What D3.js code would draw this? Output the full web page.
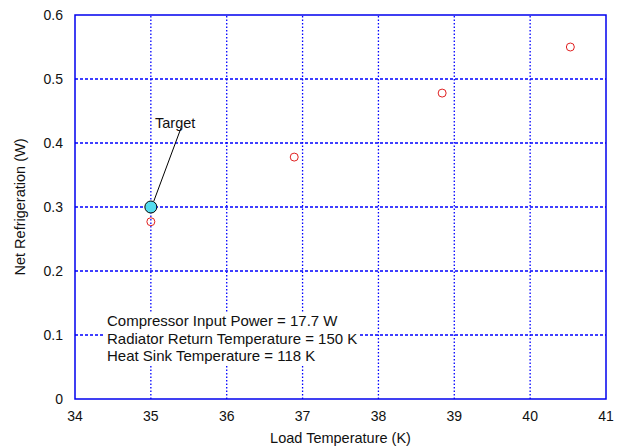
<!DOCTYPE html>
<html lang="en">
<head>
<meta charset="UTF-8">
<title>Net Refrigeration vs Load Temperature</title>
<script src="https://d3js.org/d3.v7.min.js"></script>
<style>
    body { margin: 0; background: #fff; }
    svg { display: block; font-family: "Liberation Sans", Arial, sans-serif; }
    .grid-x { stroke: #0000ff; stroke-width: 1.3; stroke-dasharray: 1.5,2; }
    .grid-y { stroke: #0000ff; stroke-width: 1.3; stroke-dasharray: 3,2; }
    .tick-label { font-size: 14px; fill: #111; }
    .title { font-size: 14.5px; fill: #111; }
    .note { font-size: 15px; fill: #111; }
</style>
</head>
<body>
<svg width="621" height="447"></svg>
<script>
    // measured data (red circles)
    const loadTemp = [35.0, 36.89, 38.84, 40.53];
    const netRefrig = [0.277, 0.378, 0.478, 0.550];
    // target point
    const target = [35.0, 0.30];
    const xTicks = [34, 35, 36, 37, 38, 39, 40, 41];
    const yTicks = [0, 0.1, 0.2, 0.3, 0.4, 0.5, 0.6];
    const notes = ["Compressor Input Power = 17.7 W",
                   "Radiator Return Temperature = 150 K",
                   "Heat Sink Temperature = 118 K"];

    const svg = d3.select("svg");
    const margin = {left: 75, right: 15, top: 15, bottom: 48};
    const W = 621, H = 447;

    const x = d3.scaleLinear().domain([34, 41]).range([margin.left, W - margin.right]);
    const y = d3.scaleLinear().domain([0, 0.6]).range([H - margin.bottom, margin.top]);

    // grid lines
    svg.selectAll(".grid-x").data(xTicks.slice(1, -1)).enter().append("line")
        .attr("class", "grid-x")
        .attr("x1", d => x(d)).attr("x2", d => x(d))
        .attr("y1", y(0)).attr("y2", y(0.6));
    svg.selectAll(".grid-y").data(yTicks.slice(1, -1)).enter().append("line")
        .attr("class", "grid-y")
        .attr("x1", x(34)).attr("x2", x(41))
        .attr("y1", d => y(d)).attr("y2", d => y(d));

    // frame
    svg.append("rect")
        .attr("x", x(34)).attr("y", y(0.6))
        .attr("width", x(41) - x(34)).attr("height", y(0) - y(0.6))
        .attr("fill", "none").attr("stroke", "#0000ee").attr("stroke-width", 1.5);

    // tick labels
    svg.selectAll(".xt").data(xTicks).enter().append("text")
        .attr("class", "tick-label")
        .attr("x", d => x(d)).attr("y", y(0) + 22)
        .attr("text-anchor", "middle")
        .text(d => d);
    svg.selectAll(".yt").data(yTicks).enter().append("text")
        .attr("class", "tick-label")
        .attr("x", x(34) - 12).attr("y", d => y(d) + 5)
        .attr("text-anchor", "end")
        .text(d => d);

    // axis titles
    svg.append("text").attr("class", "title")
        .attr("x", (x(34) + x(41)) / 2).attr("y", 443)
        .attr("text-anchor", "middle")
        .text("Load Temperature (K)");
    svg.append("text").attr("class", "title")
        .attr("transform", `translate(25,${(y(0) + y(0.6)) / 2}) rotate(-90)`)
        .attr("text-anchor", "middle")
        .text("Net Refrigeration (W)");

    // annotation block, white background hides grid behind it
    const noteG = svg.append("g");
    noteG.selectAll("text").data(notes).enter().append("text")
        .attr("class", "note")
        .attr("x", 107).attr("y", (d, i) => 326 + i * 17.5)
        .text(d => d);
    const bb = noteG.node().getBBox();
    noteG.insert("rect", "text")
        .attr("x", bb.x - 2).attr("y", bb.y + 1)
        .attr("width", bb.width + 4).attr("height", bb.height - 1)
        .attr("fill", "#fff");

    // data points
    svg.selectAll(".pt").data(loadTemp).enter().append("circle")
        .attr("cx", d => x(d))
        .attr("cy", (d, i) => y(netRefrig[i]))
        .attr("r", 4)
        .attr("fill", "none").attr("stroke", "#e02020").attr("stroke-width", 1);

    // target marker and leader line
    svg.append("line")
        .attr("x1", x(target[0]) + 3).attr("y1", y(target[1]) - 6)
        .attr("x2", 181).attr("y2", 128)
        .attr("stroke", "#000").attr("stroke-width", 1);
    svg.append("circle")
        .attr("cx", x(target[0])).attr("cy", y(target[1]))
        .attr("r", 6)
        .attr("fill", "#55dcee").attr("stroke", "#000").attr("stroke-width", 1);
    svg.append("text").attr("class", "title")
        .attr("x", 155).attr("y", 128)
        .text("Target");
</script>
</body>
</html>
